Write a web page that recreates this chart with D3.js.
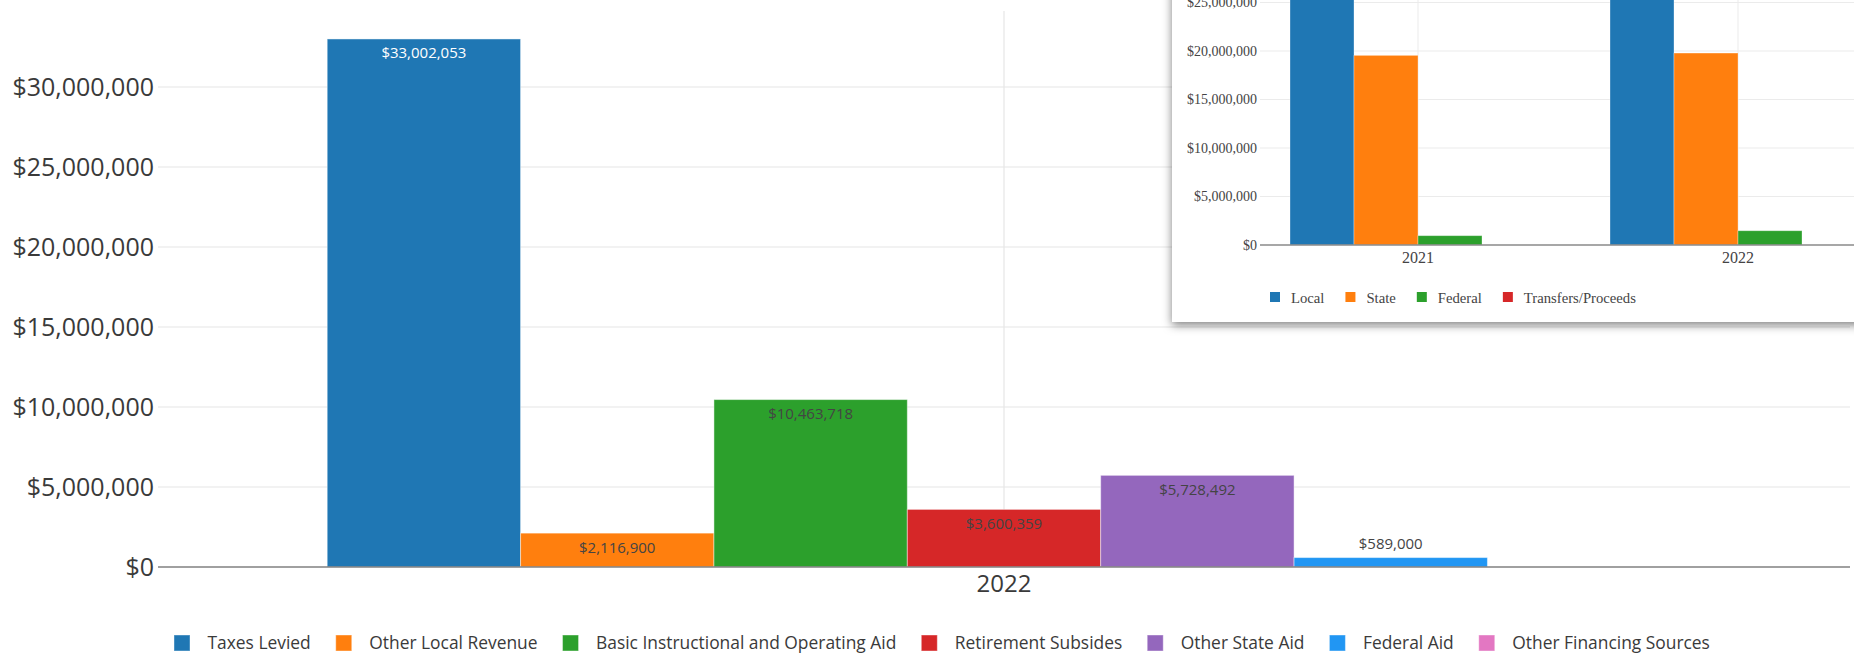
<!DOCTYPE html>
<html>
<head>
<meta charset="utf-8">
<script src="https://cdn.jsdelivr.net/npm/d3@7/dist/d3.min.js"></script>
<style>
  html, body { margin: 0; padding: 0; background: #fff; }
  svg { display: block; }
</style>
</head>
<body>
<svg id="chart" width="1854" height="664"></svg>
<script>
// ---- Revenue by source, 2022 ----
const years = ["2022"];
const revenueSources = [
  "Taxes Levied", "Other Local Revenue", "Basic Instructional and Operating Aid",
  "Retirement Subsides", "Other State Aid", "Federal Aid", "Other Financing Sources"
];
const revenue2022 = [33002053, 2116900, 10463718, 3600359, 5728492, 589000, 0];
const revenueTicks = [0, 5000000, 10000000, 15000000, 20000000, 25000000, 30000000];

// ---- Revenue by level of government, 2021–2022 ----
const levelYears = ["2021", "2022"];
const levels = ["Local", "State", "Federal", "Transfers/Proceeds"];
const levelLocal = [34100000, 35100000];
const levelState = [19550000, 19790000];
const levelFederal = [960000, 1470000];
const levelTransfers = [0, 0];
const levelTicks = [0, 5000000, 10000000, 15000000, 20000000, 25000000, 30000000, 35000000];

// palettes
const sourceColors = ["#1f77b4", "#ff7f0e", "#2ca02c", "#d62728", "#9467bd", "#2196f3", "#e377c2"];
const sourceLabelInk = ["#ffffff", "#444", "#444", "#444", "#444", "#444", "#444"];
const levelColors = ["#1f77b4", "#ff7f0e", "#2ca02c", "#d62728"];

const money = d3.format("$,");
const svg = d3.select("#chart");

// =============== main chart ===============
const M = { left: 158, right: 1850, top: 11, bottom: 567 };
const main = svg.append("g").attr("font-family", "'Open Sans', sans-serif");

const y = d3.scaleLinear().domain([0, 34750000]).range([M.bottom, M.top]);
const x0 = d3.scaleBand().domain(years).range([M.left, M.right])
  .paddingInner(0.2).paddingOuter(0.1);
const x1 = d3.scaleBand().domain(revenueSources).range([0, x0.bandwidth()]);

// gridlines
main.append("g").selectAll("line").data(revenueTicks.filter(d => d > 0)).join("line")
  .attr("x1", M.left).attr("x2", M.right)
  .attr("y1", d => y(d)).attr("y2", d => y(d))
  .attr("stroke", "#e6e6e6").attr("stroke-width", 1.2);
main.append("g").selectAll("line").data(years).join("line")
  .attr("x1", d => x0(d) + x0.bandwidth() / 2).attr("x2", d => x0(d) + x0.bandwidth() / 2)
  .attr("y1", M.top).attr("y2", M.bottom)
  .attr("stroke", "#e6e6e6").attr("stroke-width", 1.2);

// y axis labels
const yAxis = main.append("g").attr("transform", `translate(${M.left},0)`)
  .call(d3.axisLeft(y).tickValues(revenueTicks).tickFormat(money).tickSize(0).tickPadding(4));
yAxis.select(".domain").remove();
yAxis.selectAll("text").attr("font-size", 25).attr("fill", "#3a3a3a")
  .attr("font-family", "'Open Sans', sans-serif");

// bars
const rows = revenueSources.map((s, i) => ({ key: s, year: years[0], value: revenue2022[i], i }));
const barG = main.append("g");
barG.selectAll("rect").data(rows.filter(d => d.value > 0)).join("rect")
  .attr("x", d => x0(d.year) + x1(d.key))
  .attr("width", x1.bandwidth())
  .attr("y", d => y(d.value))
  .attr("height", d => y(0) - y(d.value))
  .attr("fill", d => sourceColors[d.i])
  .attr("stroke", "#ffffff").attr("stroke-opacity", 0.45).attr("stroke-width", 1);

// value labels: inside the top of the bar, above it when the bar is too short
barG.selectAll("text").data(rows.filter(d => d.value > 0)).join("text")
  .attr("x", d => x0(d.year) + x1(d.key) + x1.bandwidth() / 2)
  .attr("y", d => {
    const h = y(0) - y(d.value);
    return h > 30 ? y(d.value) + 14 : y(d.value) - 14;
  })
  .attr("dy", "0.36em")
  .attr("text-anchor", "middle")
  .attr("font-size", 15)
  .attr("fill", d => (y(0) - y(d.value) > 30 ? sourceLabelInk[d.i] : "#444"))
  .text(d => money(d.value));

// x axis
main.append("line").attr("x1", M.left).attr("x2", M.right)
  .attr("y1", y(0)).attr("y2", y(0)).attr("stroke", "#808080").attr("stroke-width", 1.6);
main.append("g").selectAll("text").data(years).join("text")
  .attr("x", d => x0(d) + x0.bandwidth() / 2).attr("y", 592)
  .attr("text-anchor", "middle").attr("font-size", 24).attr("fill", "#3a3a3a")
  .text(d => d);

// legend
const legend = main.append("g");
let lx = 174;
revenueSources.forEach((s, i) => {
  const g = legend.append("g");
  g.append("rect").attr("x", lx).attr("y", 635).attr("width", 16).attr("height", 16)
    .attr("fill", sourceColors[i]).attr("stroke", "#fff").attr("stroke-opacity", 0.4);
  const t = g.append("text").attr("x", lx + 33.5).attr("y", 649)
    .attr("font-size", 17.4).attr("fill", "#3a3a3a").text(s);
  lx = lx + 33.5 + t.node().getComputedTextLength() + 25;
});

// =============== level-of-government panel ===============
const defs = svg.append("defs");
const shadow = defs.append("filter").attr("id", "panelShadow")
  .attr("x", "-10%").attr("y", "-10%").attr("width", "120%").attr("height", "130%");
shadow.append("feDropShadow").attr("dx", 0).attr("dy", 3).attr("stdDeviation", 5)
  .attr("flood-color", "#000").attr("flood-opacity", 0.5);

const P = { x: 1172, y: -60, w: 760, h: 382 };
defs.append("clipPath").attr("id", "panelClip").append("rect")
  .attr("x", P.x).attr("y", P.y).attr("width", P.w).attr("height", P.h);

svg.append("rect").attr("x", P.x).attr("y", P.y).attr("width", P.w).attr("height", P.h)
  .attr("fill", "#fff").attr("filter", "url(#panelShadow)");

const panel = svg.append("g").attr("clip-path", "url(#panelClip)")
  .attr("font-family", "'Liberation Serif', 'Times New Roman', serif");

const I = { left: 1258, right: 1898, bottom: 245 };
const iy = d3.scaleLinear().domain([0, 37000000]).range([I.bottom, I.bottom - 37 * 9.7]);
const ix0 = d3.scaleBand().domain(levelYears).range([I.left, I.right])
  .paddingInner(0.2).paddingOuter(0.1);
const ix1 = d3.scaleBand().domain(levels).range([0, ix0.bandwidth()]);

panel.append("g").selectAll("line").data(levelTicks.filter(d => d > 0)).join("line")
  .attr("x1", I.left + 2).attr("x2", I.right)
  .attr("y1", d => iy(d)).attr("y2", d => iy(d))
  .attr("stroke", "#ebebeb").attr("stroke-width", 1);
panel.append("g").selectAll("line").data(levelYears).join("line")
  .attr("x1", d => ix0(d) + ix0.bandwidth() / 2).attr("x2", d => ix0(d) + ix0.bandwidth() / 2)
  .attr("y1", iy(levelTicks[levelTicks.length - 1])).attr("y2", I.bottom)
  .attr("stroke", "#ebebeb").attr("stroke-width", 1);

const iyAxis = panel.append("g").attr("transform", `translate(${I.left + 1},0)`)
  .call(d3.axisLeft(iy).tickValues(levelTicks).tickFormat(money).tickSize(0).tickPadding(2));
iyAxis.select(".domain").remove();
iyAxis.selectAll("text").attr("font-size", 14).attr("fill", "#444")
  .attr("font-family", "'Liberation Serif', 'Times New Roman', serif");

const levelSeries = [levelLocal, levelState, levelFederal, levelTransfers];
const levelRows = [];
levelYears.forEach((yr, j) => levels.forEach((lv, k) => {
  levelRows.push({ year: yr, key: lv, value: levelSeries[k][j], k });
}));
panel.append("g").selectAll("rect").data(levelRows.filter(d => d.value > 0)).join("rect")
  .attr("x", d => ix0(d.year) + ix1(d.key))
  .attr("width", ix1.bandwidth())
  .attr("y", d => iy(d.value))
  .attr("height", d => iy(0) - iy(d.value))
  .attr("fill", d => levelColors[d.k])
  .attr("stroke", "#fff").attr("stroke-opacity", 0.4).attr("stroke-width", 0.8);

panel.append("line").attr("x1", I.left + 2).attr("x2", I.right)
  .attr("y1", I.bottom).attr("y2", I.bottom).attr("stroke", "#8a8a8a").attr("stroke-width", 1.4);
panel.append("g").selectAll("text").data(levelYears).join("text")
  .attr("x", d => ix0(d) + ix0.bandwidth() / 2).attr("y", 263)
  .attr("text-anchor", "middle").attr("font-size", 16).attr("fill", "#444")
  .text(d => d);

let px = 1270;
levels.forEach((lv, k) => {
  panel.append("rect").attr("x", px).attr("y", 292).attr("width", 10).attr("height", 10)
    .attr("fill", levelColors[k]);
  const t = panel.append("text").attr("x", px + 21).attr("y", 302.5)
    .attr("font-size", 14.7).attr("fill", "#444").text(lv);
  px = px + 21 + t.node().getComputedTextLength() + 21;
});
</script>
</body>
</html>
